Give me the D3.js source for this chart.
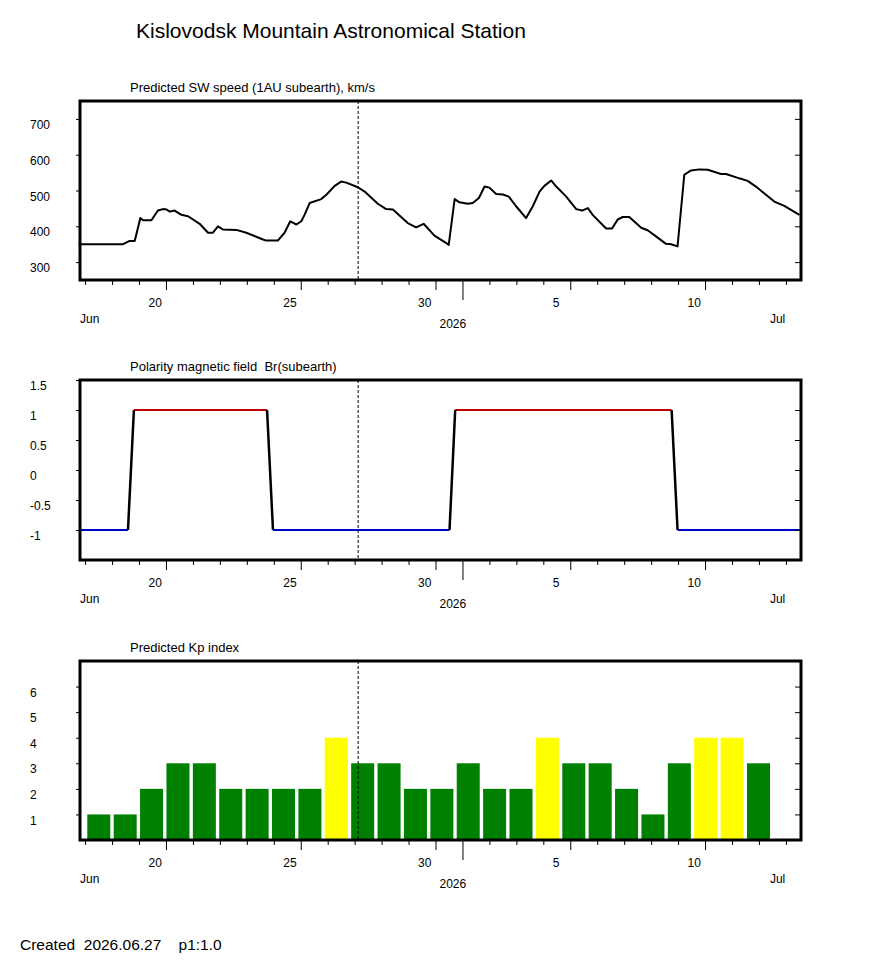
<html>
<head>
<meta charset="utf-8" />
<title>Kislovodsk Mountain Astronomical Station</title>
<script src="https://d3js.org/d3.v7.min.js"></script>
<style>
  body { margin: 0; background: #fff; }
  svg text { font-family: "Liberation Sans", Arial, sans-serif; fill: #000; }
</style>
</head>
<body>
<svg id="chart"></svg>
<script>
// time is given as day of June (July d = 30 + d)
const swT = [16.76, 18.41, 18.65, 18.84, 19.05, 19.15, 19.46, 19.70, 19.89, 20.02,
  20.14, 20.32, 20.57, 20.82, 21.25, 21.56, 21.74, 21.93, 22.11, 22.61,
  22.98, 23.60, 23.72, 24.15, 24.40, 24.61, 24.84, 25.02, 25.14, 25.33,
  25.76, 25.95, 26.26, 26.50, 26.69, 27.12, 27.37, 27.86, 28.17, 28.42,
  28.97, 29.28, 29.56, 29.96, 30.46, 30.49, 30.71, 30.89, 31.20, 31.38,
  31.61, 31.82, 32.00, 32.25, 32.50, 32.72, 32.99, 33.36, 33.61, 33.86,
  34.04, 34.29, 34.48, 34.85, 35.22, 35.44, 35.65, 35.83, 36.33, 36.55,
  36.76, 36.95, 37.19, 37.63, 37.87, 38.18, 38.55, 38.74, 38.98, 39.23,
  39.48, 39.79, 40.10, 40.59, 40.78, 41.27, 41.58, 41.89, 42.26, 42.57,
  42.94, 43.50];
const swSpeed = [350, 350, 359, 359, 423, 417, 417, 444, 448, 447,
  441, 444, 432, 428, 407, 382, 382, 400, 391, 390,
  382, 363, 360, 360, 382, 414, 405, 414, 432, 465,
  476, 488, 513, 525, 522, 509, 497, 463, 448, 447,
  409, 397, 407, 374, 350, 348, 476, 467, 463, 465,
  479, 511, 508, 490, 489, 483, 456, 423, 456, 497,
  513, 528, 511, 483, 448, 444, 451, 432, 394, 394,
  419, 426, 426, 396, 389, 372, 351, 350, 344, 544,
  556, 559, 558, 546, 546, 534, 527, 511, 488, 469,
  457, 432];

const polT = [16.81, 18.59, 18.81, 23.75, 23.97, 30.52, 30.73, 38.76, 38.98, 43.56];
const polBr = [-1, -1, 1, 1, -1, -1, 1, 1, -1, -1];

const kpDays = ["06-17", "06-18", "06-19", "06-20", "06-21", "06-22", "06-23", "06-24", "06-25", "06-26",
  "06-27", "06-28", "06-29", "06-30", "07-01", "07-02", "07-03", "07-04", "07-05", "07-06",
  "07-07", "07-08", "07-09", "07-10", "07-11", "07-12"];
const kpValues = [1, 1, 2, 3, 3, 2, 2, 2, 2, 4, 3, 3, 2, 2, 3, 2, 2, 4, 3, 3, 2, 1, 3, 4, 4, 3];

const swTicks = [300, 400, 500, 600, 700];
const brTicks = [-1, -0.5, 0, 0.5, 1, 1.5];
const kpTicks = [1, 2, 3, 4, 5, 6];
const nowT = 27.13;
const tStart = 16.81, tEnd = 43.56;

const tDate = t => new Date(Date.UTC(2026, 5, 1) + (t - 1) * 864e5);

const svg = d3.select("#chart").attr("width", 870).attr("height", 965);

const x = d3.scaleUtc().domain([tDate(tStart), tDate(tEnd)]).range([80, 801]);

svg.append("text").attr("x", 136).attr("y", 38)
  .style("font-size", "21px").text("Kislovodsk Mountain Astronomical Station");

svg.append("text").attr("x", 20).attr("y", 950)
  .style("font-size", "15.5px").style("white-space", "pre")
  .text("Created  2026.06.27    p1:1.0");

function panel(top, bottom, title, yDomain, yTicks, drawMarks) {
  const g = svg.append("g");
  const y = d3.scaleLinear().domain(yDomain).range([bottom, top]);

  g.append("text").attr("x", 130).attr("y", top - 9)
    .style("font-size", "13px").style("white-space", "pre").text(title);

  drawMarks(g, y);

  // current time marker
  g.append("line")
    .attr("x1", x(tDate(nowT))).attr("x2", x(tDate(nowT)))
    .attr("y1", top).attr("y2", bottom)
    .attr("stroke", "#000").attr("stroke-width", 1).attr("stroke-dasharray", "3,2");

  // left axis
  const la = g.append("g").attr("transform", "translate(81,0)")
    .call(d3.axisLeft(y).tickValues(yTicks).tickSize(5).tickFormat(d => String(d)));
  la.select(".domain").remove();
  la.selectAll("line").attr("stroke", "#000");
  la.selectAll("text").attr("x", -51).attr("dy", "0.8em")
    .attr("text-anchor", "start").style("font-size", "12px")
    .style("font-family", "\"Liberation Sans\", Arial, sans-serif");

  // right axis (inside)
  const ra = g.append("g").attr("transform", "translate(800,0)")
    .call(d3.axisLeft(y).tickValues(yTicks.filter(v => v < yDomain[1])).tickSize(5).tickFormat(""));
  ra.select(".domain").remove();
  ra.selectAll("line").attr("stroke", "#000");

  // bottom time axis
  const days = d3.utcDay.range(tDate(17), tDate(tEnd));
  const xa = g.append("g").attr("transform", `translate(0,${bottom})`)
    .call(d3.axisBottom(x).tickValues(days).tickSize(5)
      .tickFormat(d => d.getUTCDate() % 5 === 0 ? d.getUTCDate() : ""));
  xa.select(".domain").remove();
  xa.selectAll(".tick line").attr("stroke", "#000")
    .attr("y2", d => d.getUTCDate() === 1 ? 20 : (d.getUTCDate() % 5 === 0 ? 10 : 5));
  xa.selectAll(".tick text").attr("x", -18).attr("y", 18.5).attr("dy", "0.71em")
    .attr("text-anchor", "start").style("font-size", "12px")
    .style("font-family", "\"Liberation Sans\", Arial, sans-serif");

  g.append("text").attr("x", x(tDate(tStart))).attr("y", bottom + 43)
    .style("font-size", "12px").text("Jun");
  g.append("text").attr("x", x(tDate(31)) - 23).attr("y", bottom + 48)
    .style("font-size", "12px").text("2026");
  g.append("text").attr("x", x(tDate(43)) - 16).attr("y", bottom + 43)
    .style("font-size", "12px").text("Jul");

  // frame
  g.append("rect").attr("x", 80).attr("y", top)
    .attr("width", 721).attr("height", bottom - top)
    .attr("fill", "none").attr("stroke", "#000").attr("stroke-width", 3);
}

// SW speed
panel(101, 280, "Predicted SW speed (1AU subearth), km/s", [250, 750], swTicks, (g, y) => {
  const pts = swT.map((t, i) => [tDate(t), swSpeed[i]]);
  g.append("path").datum(pts)
    .attr("d", d3.line().x(d => x(d[0])).y(d => y(d[1])))
    .attr("fill", "none").attr("stroke", "#000").attr("stroke-width", 2)
    .attr("stroke-linejoin", "round");
});

// polarity
panel(380, 560, "Polarity magnetic field  Br(subearth)", [-1.5, 1.5], brTicks, (g, y) => {
  const segs = d3.range(polT.length - 1).map(i => ({
    a: [tDate(polT[i]), polBr[i]], b: [tDate(polT[i + 1]), polBr[i + 1]]
  }));
  const flat = segs.filter(s => s.a[1] === s.b[1]);
  const ramp = segs.filter(s => s.a[1] !== s.b[1]);
  g.selectAll(".flat").data(flat).join("line").attr("class", "flat")
    .attr("x1", s => x(s.a[0])).attr("x2", s => x(s.b[0]))
    .attr("y1", s => y(s.a[1])).attr("y2", s => y(s.b[1]))
    .attr("stroke", s => s.a[1] > 0 ? "#c00000" : "#0000cc").attr("stroke-width", 2);
  g.selectAll(".ramp").data(ramp).join("line").attr("class", "ramp")
    .attr("x1", s => x(s.a[0])).attr("x2", s => x(s.b[0]))
    .attr("y1", s => y(s.a[1])).attr("y2", s => y(s.b[1]))
    .attr("stroke", "#000").attr("stroke-width", 2.5);
});

// Kp index
panel(661, 840, "Predicted Kp index", [0, 7], kpTicks, (g, y) => {
  const xb = d3.scaleBand().domain(kpDays).range([85.6, 771.7])
    .paddingInner(0.128).paddingOuter(0.064);
  g.selectAll(".bar").data(kpValues).join("rect").attr("class", "bar")
    .attr("x", (d, i) => xb(kpDays[i]))
    .attr("width", xb.bandwidth())
    .attr("y", d => y(d))
    .attr("height", d => y(0) - y(d))
    .attr("fill", d => d >= 4 ? "#ffff00" : "#008000");
});
</script>
</body>
</html>
